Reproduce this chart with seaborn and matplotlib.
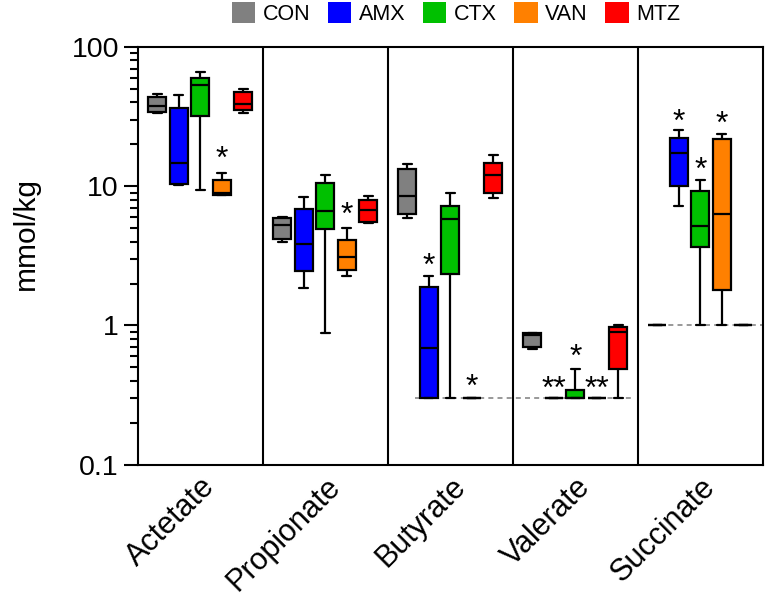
import numpy as np
import pandas as pd
import seaborn as sns
import matplotlib.pyplot as plt
from matplotlib.patches import Patch
from matplotlib.ticker import FixedLocator, FixedFormatter, LogLocator, NullFormatter

# short chain fatty acids per treatment, five-number summaries
# each row: [min, q1, median, q3, max], in order CON, AMX, CTX, VAN, MTZ
acids = ['Actetate', 'Propionate', 'Butyrate', 'Valerate', 'Succinate']
groups = ['CON', 'AMX', 'CTX', 'VAN', 'MTZ']
colors = ['#808080', '#0000FF', '#00C000', '#FF8000', '#FF0000']

acetate = [[33.5, 34, 37.7, 44, 45.8],
           [10.2, 10.3, 14.7, 36.7, 45],
           [9.4, 31.9, 53.2, 59.4, 65.7],
           [8.6, 8.6, 8.9, 11.0, 12.5],
           [33.8, 35.1, 38.8, 47.6, 49.7]]
propionate = [[3.95, 4.16, 5.27, 5.95, 6.0],
              [1.87, 2.47, 3.85, 6.9, 8.3],
              [0.885, 4.9, 6.65, 10.6, 12.1],
              [2.27, 2.49, 3.08, 4.11, 5.04],
              [5.42, 5.54, 6.77, 7.9, 8.5]]
butyrate = [[5.95, 6.3, 8.5, 13.3, 14.5],
            [0.3, 0.3, 0.69, 1.89, 2.27],
            [0.3, 2.36, 5.8, 7.2, 8.9],
            [0.3, 0.3, 0.3, 0.3, 0.3],
            [8.2, 8.9, 12.0, 14.7, 16.7]]
valerate = [[0.68, 0.705, 0.85, 0.88, 0.89],
            [0.3, 0.3, 0.3, 0.3, 0.3],
            [0.3, 0.3, 0.3, 0.343, 0.49],
            [0.3, 0.3, 0.3, 0.3, 0.3],
            [0.3, 0.49, 0.895, 0.98, 1.0]]
succinate = [[1, 1, 1, 1, 1],
             [7.27, 10.1, 17.2, 22.3, 25.3],
             [1.0, 3.64, 5.21, 9.17, 11.1],
             [1.0, 1.79, 6.33, 21.9, 23.8],
             [1, 1, 1, 1, 1]]

# significance marks: (acid index, group index, y value, text)
star_acid = [0, 1, 2, 2, 3, 3, 3, 4, 4, 4]
star_group = [3, 3, 1, 3, 1, 2, 3, 1, 2, 3]
star_y = [16.7, 6.53, 2.85, 0.383, 0.37, 0.632, 0.37, 30.8, 13.9, 29.8]
star_txt = ['*', '*', '*', '*', '**', '*', '**', '*', '*', '*']

# detection limits (value, x start, x end)
lod_val = [0.3, 1.0]
lod_x0 = [1.72, 3.6]
lod_x1 = [3.48, 4.5]

rows = []
for acid, table in zip(acids, [acetate, propionate, butyrate, valerate, succinate]):
    for g, vals in zip(groups, table):
        for v in vals:
            rows.append({'acid': acid, 'group': g, 'value': v})
df = pd.DataFrame(rows)

sns.set_style('ticks')
plt.rcParams['font.family'] = ['Liberation Sans', 'DejaVu Sans']
plt.rcParams['text.color'] = 'black'
plt.rcParams['axes.labelcolor'] = 'black'
plt.rcParams['xtick.color'] = 'black'
plt.rcParams['ytick.color'] = 'black'

fig = plt.figure(figsize=(7.69, 6.02), dpi=100)
ax = fig.add_axes([0.179, 0.228, 0.813, 0.694])

for v, a, b in zip(lod_val, lod_x0, lod_x1):
    ax.hlines(v, a, b, colors='#888888', linestyles=(0, (3, 2.5)), lw=1.2, zorder=1)

width = 0.86
sns.boxplot(data=df, x='acid', y='value', hue='group', order=acids, hue_order=groups,
            palette=colors, saturation=1, log_scale=True, whis=(0, 100),
            width=width, gap=0.16, linecolor='black', linewidth=1.6,
            legend=False, ax=ax)

step = width / len(groups)
for a, g, y, t in zip(star_acid, star_group, star_y, star_txt):
    ax.text(a + (g - 2) * step, y * 0.93, t, ha='center', va='center', fontsize=23)

for x in [0.5, 1.5, 2.5, 3.5]:
    ax.axvline(x, color='black', lw=1.5)

ax.set_xlim(-0.5, 4.5)
ax.set_ylim(0.1, 100)
ax.yaxis.set_major_locator(FixedLocator([0.1, 1, 10, 100]))
ax.yaxis.set_major_formatter(FixedFormatter(['0.1', '1', '10', '100']))
ax.yaxis.set_minor_locator(LogLocator(base=10, subs=np.arange(2, 10)))
ax.yaxis.set_minor_formatter(NullFormatter())
ax.tick_params(axis='y', which='major', length=10, width=1.5, labelsize=20.5, direction='out')
ax.tick_params(axis='y', which='minor', length=6, width=1.5, direction='out')
ax.tick_params(axis='x', length=0, labelsize=22, pad=5)
for lab in ax.get_xticklabels():
    lab.set_rotation(45)
    lab.set_ha('right')
    lab.set_rotation_mode('anchor')
for s in ax.spines.values():
    s.set_linewidth(1.5)
    s.set_color('black')
ax.set_xlabel('')
ax.set_ylabel('mmol/kg', fontsize=21.5)
ax.yaxis.set_label_coords(-0.157, 0.553)

handles = [Patch(facecolor=c, edgecolor='none') for c in colors]
fig.legend(handles, groups, loc='center', bbox_to_anchor=(0.593, 0.978), ncol=5, frameon=False,
           fontsize=15.5, handlelength=1.1, handleheight=1.1, handletextpad=0.35,
           columnspacing=0.8, borderpad=0)

plt.savefig('out.png', dpi=100)
